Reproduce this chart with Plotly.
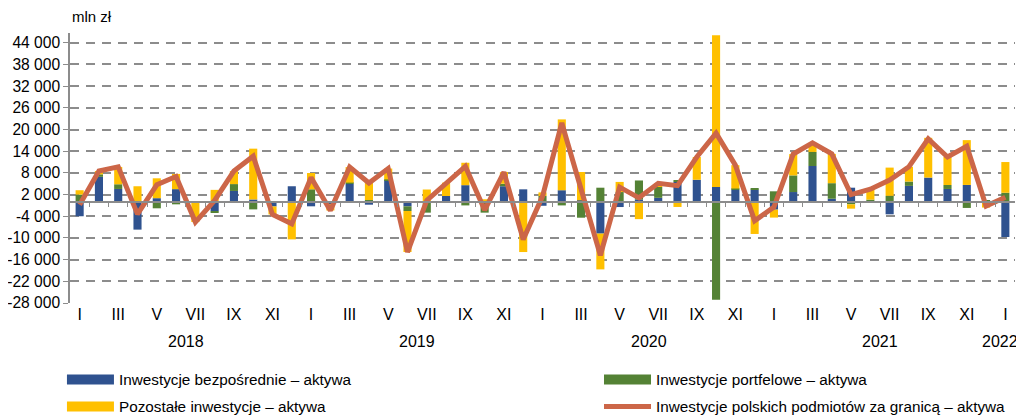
import plotly.graph_objects as go

# ---- data (mln zł) ----
years = ["2018", "2019", "2020", "2021", "2022"]
roman = ["I", "II", "III", "IV", "V", "VI", "VII", "VIII", "IX", "X", "XI", "XII"]
categories = [f"{r} {y}" for y in years[:4] for r in roman] + ["I 2022"]

bezposrednie = [-4000, 6900, 3550, -7700, 1000, 3500, 0, -2600, 3000, 650, -1300, 4300,
                -1250, -600, 5000, -800, 6000, -1250, 0, 1600, 4600, 0, 4300, 3450,
                -1100, 3200, 400, -8800, -1450, 600, 1100, 5500, 6100, 4100, 3370, 3370,
                -2170, 2700, 9900, 850, 3900, 0, -3460, 4400, 6700, 3550, 4660, 0,
                -9740]
portfelowe = [2000, 700, 1300, 0, -1800, -700, 0, -300, 1900, -2100, 0, 0,
              3460, 0, 300, 500, 200, -1300, -3000, -300, -1000, -3000, 700, 0,
              1600, -1000, -4400, 3900, 2700, 5300, 3000, 400, 0, -27100, 300, 300,
              2900, 4600, 3900, 4300, -700, 600, 1660, 1200, -300, 1100, -1700, 400,
              2500]
pozostale = [1200, 900, 4800, 4300, 5500, 4200, -5600, 3300, 3600, 14050, -2200, -10400,
             4500, -1800, 4300, 5500, 3000, -11350, 3400, 3700, 6200, 700, 3200, -13900,
             1000, 19600, 7850, -9900, 2800, -4800, 1000, -1430, 6300, 42000, 6460, -8900,
             -2200, 5900, 2500, 8100, -1200, 2900, 7800, 4100, 11000, 7750, 12400, -1600,
             8500]
razem = [-800, 8500, 9650, -3400, 4700, 7000, -5600, 400, 8500, 12600, -3500, -6100,
         6700, -2400, 9600, 5200, 9200, -13900, 400, 5000, 9800, -2300, 8200, -10450,
         1500, 21800, 3850, -14800, 4050, 1100, 5100, 4470, 12400, 19000, 10130, -5230,
         -1470, 13200, 16300, 13250, 2000, 3500, 6000, 9700, 17400, 12400, 15360, -1200,
         1260]

ytick_vals = [-28000, -22000, -16000, -10000, -4000, 2000, 8000, 14000, 20000,
              26000, 32000, 38000, 44000]
ytick_text = [f"{v:,}".replace(",", " ") for v in ytick_vals]
xtick_vals = [c for c in categories if c.split()[0] in ("I", "III", "V", "VII", "IX", "XI")]
xtick_text = [c.split()[0] for c in xtick_vals]
year_pos = [5.5, 17.5, 29.5, 41.5, 48]

names = ["Inwestycje bezpośrednie – aktywa", "Inwestycje portfelowe – aktywa",
         "Pozostałe inwestycje – aktywa", "Inwestycje polskich podmiotów za granicą – aktywa"]
colors = ["#2F528F", "#548235", "#FFC000", "#CC6648"]

Y_MIN, Y_MAX = -28000, 46700
FONT = "Liberation Sans, Arial, sans-serif"

fig = go.Figure()
for vals, name, col in zip([bezposrednie, portfelowe, pozostale], names[:3], colors[:3]):
    fig.add_trace(go.Bar(x=categories, y=vals, name=name, marker_color=col,
                         marker_line_width=0, showlegend=False, legendgroup=name))
fig.add_trace(go.Scatter(x=categories, y=razem, mode="lines", name=names[3],
                         line=dict(color=colors[3], width=5), showlegend=False,
                         legendgroup=names[3]))

# legend-only entries (wide swatches); two legends = two columns
for name, col, w, lg in [(names[0], colors[0], 10, "legend"), (names[2], colors[2], 10, "legend"),
                         (names[1], colors[1], 10, "legend2"), (names[3], colors[3], 5, "legend2")]:
    fig.add_trace(go.Scatter(x=[None], y=[None], mode="lines", name=name,
                             line=dict(color=col, width=w), legendgroup=name,
                             showlegend=True, legend=lg))

zero_pos = (0 - Y_MIN) / (Y_MAX - Y_MIN)

legend_common = dict(orientation="v", xref="container", yref="container",
                     xanchor="left", yanchor="top", y=0.134, itemwidth=47,
                     tracegroupgap=4, font=dict(size=15.3), bgcolor="rgba(0,0,0,0)")

# page body has an 8px margin, so the figure is 8px smaller than the window
fig.update_layout(
    width=1016, height=410,
    margin=dict(l=62, r=9, t=25, b=115, autoexpand=False),
    barmode="relative", bargap=0.58,
    plot_bgcolor="white", paper_bgcolor="white",
    font=dict(family=FONT, size=16, color="black"),
    xaxis=dict(type="category", range=[-0.5, 48.5], tickvals=xtick_vals, ticktext=xtick_text,
               showgrid=False, showline=False, ticks="", zeroline=False, automargin=False,
               tickfont=dict(size=16)),
    xaxis2=dict(overlaying="x", anchor="free", position=zero_pos, range=[-0.5, 48.5],
                type="linear", showgrid=False, zeroline=False, showline=True,
                linecolor="#8C8C8C", linewidth=1.5, ticks="outside", ticklen=4,
                tickcolor="#8C8C8C", tickwidth=1.2, automargin=False,
                tickvals=[i + 0.5 for i in range(48)], showticklabels=False),
    yaxis=dict(range=[Y_MIN, Y_MAX], tickvals=ytick_vals, ticktext=ytick_text,
               showgrid=True, gridcolor="#8C8C8C", gridwidth=1.5, griddash="9px,7px",
               zeroline=False, showline=True, linecolor="#8C8C8C", linewidth=1.5,
               automargin=False,
               ticks="outside", ticklen=5, tickcolor="#8C8C8C", tickfont=dict(size=15.6)),
    legend=dict(x=0.0531, **legend_common),
    legend2=dict(x=0.5817, **legend_common),
    annotations=[dict(text="mln zł", x=0, y=1, xref="paper", yref="paper",
                      xanchor="left", yanchor="bottom", yshift=6, showarrow=False,
                      font=dict(size=15))] +
                [dict(text=y, x=p, y=0, xref="x", yref="paper", yanchor="middle",
                      xanchor="right" if y == years[-1] else "center",
                      xshift=15 if y == years[-1] else 0,
                      yshift=-38, showarrow=False, font=dict(size=16))
                 for y, p in zip(years, year_pos)],
)
# dummy trace to activate xaxis2
fig.add_trace(go.Scatter(x=[None], y=[None], xaxis="x2", showlegend=False, hoverinfo="skip"))

fig.write_html("out.html")
